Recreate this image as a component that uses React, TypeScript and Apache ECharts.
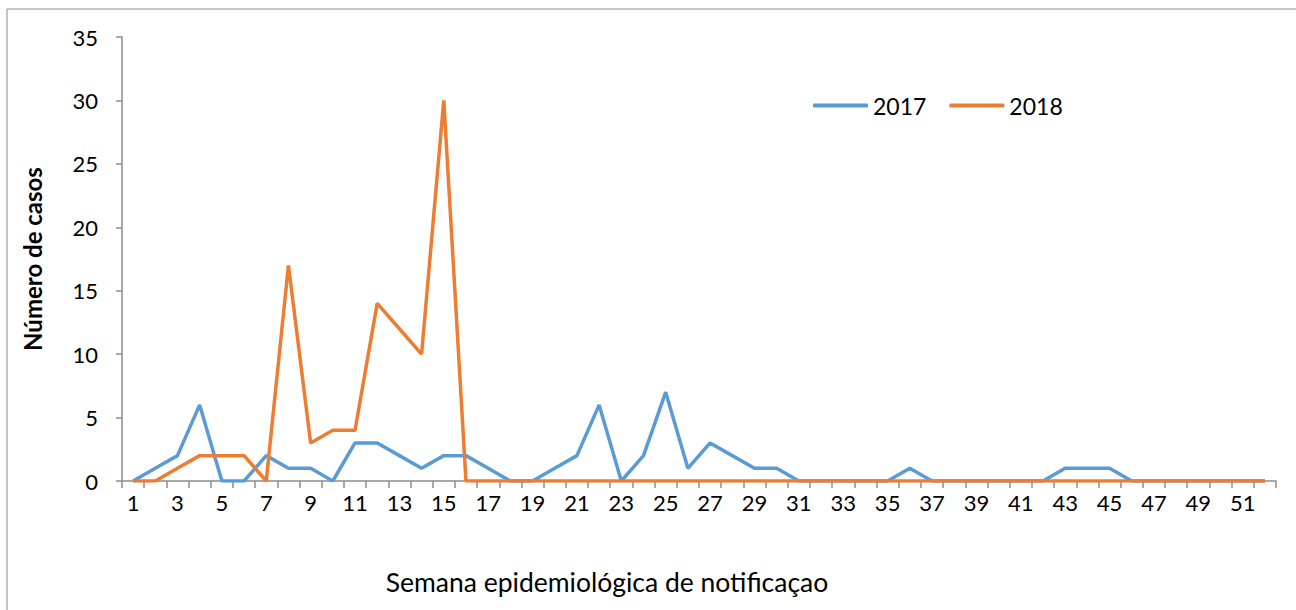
import React, { useEffect, useRef } from "react";
import * as echarts from "echarts";

const weeks: string[] = Array.from({ length: 52 }, (_, i) => String(i + 1));
const cases2017: number[] = [
  0, 1, 2, 6, 0, 0, 2, 1, 1, 0, 3, 3, 2, 1, 2, 2, 1, 0, 0, 1, 2, 6, 0, 2, 7, 1,
  3, 2, 1, 1, 0, 0, 0, 0, 0, 1, 0, 0, 0, 0, 0, 0, 1, 1, 1, 0, 0, 0, 0, 0, 0, 0,
];
const cases2018: number[] = [
  0, 0, 1, 2, 2, 2, 0, 17, 3, 4, 4, 14, 12, 10, 30, 0, 0, 0, 0, 0, 0, 0, 0, 0, 0, 0,
  0, 0, 0, 0, 0, 0, 0, 0, 0, 0, 0, 0, 0, 0, 0, 0, 0, 0, 0, 0, 0, 0, 0, 0, 0, 0,
];
const seriesNames: string[] = ["2017", "2018"];
const yTicks = { min: 0, max: 35, interval: 5 };
const xTitle = "Semana epidemiológica de notificaçao";
const yTitle = "Número de casos";

const FONT = "Lato, 'Open Sans', sans-serif";

export default function App() {
  const ref = useRef<HTMLDivElement>(null);
  useEffect(() => {
    if (!ref.current) return;
    const chart = echarts.init(ref.current, null, { renderer: "svg" });
    chart.setOption({
      animation: false,
      backgroundColor: "#ffffff",
      textStyle: { fontFamily: FONT },
      grid: { left: 122, right: 20, top: 37, bottom: 129, containLabel: false },
      legend: {
        left: 813,
        top: 94,
        padding: 0,
        itemWidth: 55,
        itemHeight: 4,
        itemGap: 23,
        icon: "roundRect",
        textStyle: { fontSize: 23, color: "#000", fontFamily: FONT },
        data: seriesNames,
      },
      graphic: [
        {
          type: "rect",
          shape: { x: 7, y: 9, width: 1400, height: 700 },
          style: { fill: "none", stroke: "#8c8c8c", lineWidth: 1 },
          silent: true,
          z: -1,
        },
        {
          type: "text",
          x: 607,
          y: 582,
          style: {
            text: xTitle,
            fontSize: 26.5,
            fontFamily: FONT,
            fill: "#000",
            align: "center",
            verticalAlign: "middle",
          },
        },
      ],
      xAxis: {
        type: "category",
        data: weeks,
        boundaryGap: true,
        axisLine: { lineStyle: { color: "#8c8c8c", width: 1.5 } },
        axisTick: { show: true, interval: 0, length: 7, lineStyle: { color: "#8c8c8c", width: 1.5 } },
        axisLabel: { interval: 1, color: "#000", fontSize: 22, margin: 10, fontFamily: FONT },
        splitLine: { show: false },
      },
      yAxis: {
        type: "value",
        min: yTicks.min,
        max: yTicks.max,
        interval: yTicks.interval,
        name: yTitle,
        nameLocation: "middle",
        nameGap: 78,
        nameRotate: 90,
        nameTextStyle: { fontSize: 24, fontWeight: "bold", color: "#000", fontFamily: FONT },
        axisLine: { show: true, lineStyle: { color: "#8c8c8c", width: 1.5 } },
        axisTick: { show: true, length: 6, lineStyle: { color: "#8c8c8c", width: 1.5 } },
        axisLabel: { color: "#000", fontSize: 22, margin: 24, fontFamily: FONT },
        splitLine: { show: false },
      },
      series: [
        {
          name: seriesNames[0],
          type: "line",
          data: cases2017,
          symbol: "none",
          lineStyle: { color: "#5B9BD5", width: 3.5 },
          itemStyle: { color: "#5B9BD5" },
          z: 2,
        },
        {
          name: seriesNames[1],
          type: "line",
          data: cases2018,
          symbol: "none",
          lineStyle: { color: "#ED7D31", width: 3.5 },
          itemStyle: { color: "#ED7D31" },
          z: 3,
        },
      ],
    });
    return () => chart.dispose();
  }, []);
  return (
    <div
      ref={ref}
      style={{ position: "fixed", left: 0, top: 0, width: 1296, height: 610 }}
    />
  );
}
